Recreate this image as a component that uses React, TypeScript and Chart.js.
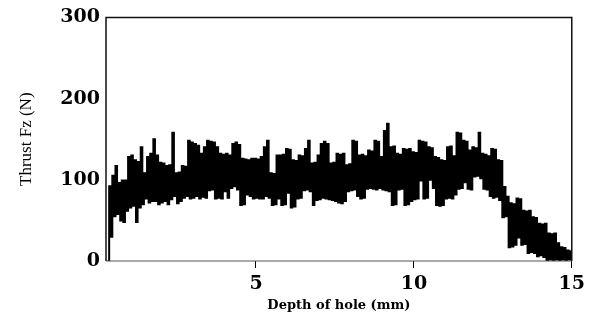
import React, { useEffect, useRef } from 'react';
import { Chart, registerables } from 'chart.js';

Chart.register(...registerables);

// Depth of hole (mm), sampled every 0.05 mm
const depthMm: number[] = [
  0.30, 0.35, 0.40, 0.45, 0.50, 0.55, 0.60, 0.65, 0.70, 0.75, 0.80, 0.85, 0.90, 0.95,
  1.00, 1.05, 1.10, 1.15, 1.20, 1.25, 1.30, 1.35, 1.40, 1.45, 1.50, 1.55, 1.60, 1.65, 1.70, 1.75, 1.80, 1.85, 1.90, 1.95,
  2.00, 2.05, 2.10, 2.15, 2.20, 2.25, 2.30, 2.35, 2.40, 2.45, 2.50, 2.55, 2.60, 2.65, 2.70, 2.75, 2.80, 2.85, 2.90, 2.95,
  3.00, 3.05, 3.10, 3.15, 3.20, 3.25, 3.30, 3.35, 3.40, 3.45, 3.50, 3.55, 3.60, 3.65, 3.70, 3.75, 3.80, 3.85, 3.90, 3.95,
  4.00, 4.05, 4.10, 4.15, 4.20, 4.25, 4.30, 4.35, 4.40, 4.45, 4.50, 4.55, 4.60, 4.65, 4.70, 4.75, 4.80, 4.85, 4.90, 4.95,
  5.00, 5.05, 5.10, 5.15, 5.20, 5.25, 5.30, 5.35, 5.40, 5.45, 5.50, 5.55, 5.60, 5.65, 5.70, 5.75, 5.80, 5.85, 5.90, 5.95,
  6.00, 6.05, 6.10, 6.15, 6.20, 6.25, 6.30, 6.35, 6.40, 6.45, 6.50, 6.55, 6.60, 6.65, 6.70, 6.75, 6.80, 6.85, 6.90, 6.95,
  7.00, 7.05, 7.10, 7.15, 7.20, 7.25, 7.30, 7.35, 7.40, 7.45, 7.50, 7.55, 7.60, 7.65, 7.70, 7.75, 7.80, 7.85, 7.90, 7.95,
  8.00, 8.05, 8.10, 8.15, 8.20, 8.25, 8.30, 8.35, 8.40, 8.45, 8.50, 8.55, 8.60, 8.65, 8.70, 8.75, 8.80, 8.85, 8.90, 8.95,
  9.00, 9.05, 9.10, 9.15, 9.20, 9.25, 9.30, 9.35, 9.40, 9.45, 9.50, 9.55, 9.60, 9.65, 9.70, 9.75, 9.80, 9.85, 9.90, 9.95,
  10.00, 10.05, 10.10, 10.15, 10.20, 10.25, 10.30, 10.35, 10.40, 10.45, 10.50, 10.55, 10.60, 10.65, 10.70, 10.75, 10.80, 10.85, 10.90, 10.95,
  11.00, 11.05, 11.10, 11.15, 11.20, 11.25, 11.30, 11.35, 11.40, 11.45, 11.50, 11.55, 11.60, 11.65, 11.70, 11.75, 11.80, 11.85, 11.90, 11.95,
  12.00, 12.05, 12.10, 12.15, 12.20, 12.25, 12.30, 12.35, 12.40, 12.45, 12.50, 12.55, 12.60, 12.65, 12.70, 12.75, 12.80, 12.85, 12.90, 12.95,
  13.00, 13.05, 13.10, 13.15, 13.20, 13.25, 13.30, 13.35, 13.40, 13.45, 13.50, 13.55, 13.60, 13.65, 13.70, 13.75, 13.80, 13.85, 13.90, 13.95,
  14.00, 14.05, 14.10, 14.15, 14.20, 14.25, 14.30, 14.35, 14.40, 14.45, 14.50, 14.55, 14.60, 14.65, 14.70, 14.75, 14.80, 14.85, 14.90, 14.95,
  15.00,
];

// Thrust Fz (N)
const thrustN: number[] = [
  0, 92, 30, 105, 55, 117, 58, 96, 50, 99, 48, 99, 62, 128,
  66, 130, 68, 124, 48, 122, 66, 140, 70, 108, 77, 128, 72, 132, 74, 150, 74, 130, 70, 121,
  72, 120, 74, 117, 70, 118, 76, 158, 80, 108, 71, 109, 74, 117, 78, 116, 80, 148, 77, 146,
  78, 144, 80, 142, 77, 132, 79, 140, 78, 148, 87, 147, 88, 146, 77, 140, 78, 132, 77, 131,
  86, 132, 78, 130, 90, 144, 92, 146, 88, 143, 69, 126, 70, 125, 82, 124, 80, 126, 77, 126,
  78, 125, 77, 128, 77, 140, 80, 148, 78, 108, 69, 107, 70, 130, 77, 130, 69, 131, 70, 138,
  84, 137, 66, 124, 67, 123, 77, 130, 78, 129, 87, 138, 88, 148, 86, 120, 69, 121, 75, 130,
  76, 144, 78, 147, 77, 144, 76, 120, 75, 121, 74, 132, 72, 131, 71, 132, 74, 118, 86, 119,
  87, 148, 88, 147, 80, 130, 77, 131, 78, 129, 89, 136, 90, 135, 89, 148, 88, 147, 90, 128,
  88, 160, 87, 169, 86, 140, 69, 141, 70, 132, 88, 131, 89, 138, 69, 137, 70, 138, 74, 134,
  76, 133, 77, 148, 99, 147, 77, 146, 78, 140, 100, 139, 90, 128, 69, 127, 68, 124, 69, 123,
  77, 140, 78, 141, 77, 129, 82, 158, 89, 157, 90, 148, 97, 147, 89, 136, 88, 140, 104, 139,
  105, 158, 102, 132, 89, 131, 88, 129, 80, 138, 78, 137, 79, 124, 75, 123, 54, 91, 55, 79,
  17, 71, 18, 70, 20, 77, 29, 76, 20, 62, 21, 61, 10, 62, 11, 54, 10, 53, 6, 46,
  7, 45, 5, 46, 1, 34, 2, 33, 1, 34, 2, 22, 1, 17, 2, 16, 1, 13, 2, 12,
  0,
];

const xTicks: number[] = [5, 10, 15];
const yTicks: number[] = [0, 100, 200, 300];

const xTitle = 'Depth of hole (mm)';
const yTitle = 'Thrust Fz (N)';

export default function App() {
  const ref = useRef<HTMLCanvasElement>(null);

  useEffect(() => {
    if (!ref.current) return;
    const points = depthMm.map((d, i) => ({ x: d, y: thrustN[i] }));

    const framePlugin = {
      id: 'frame',
      afterDatasetsDraw(chart: any) {
        const { ctx, chartArea: a } = chart;
        ctx.save();
        ctx.strokeStyle = '#111';
        ctx.lineWidth = 1.5;
        ctx.beginPath();
        ctx.moveTo(a.left, a.bottom);
        ctx.lineTo(a.left, a.top);
        ctx.lineTo(a.right, a.top);
        ctx.lineTo(a.right, a.bottom);
        ctx.stroke();
        ctx.strokeStyle = '#555';
        ctx.lineWidth = 1.2;
        ctx.beginPath();
        ctx.moveTo(a.left, a.bottom);
        ctx.lineTo(a.right, a.bottom);
        ctx.stroke();
        ctx.restore();
      },
    };

    const tickFont = { family: 'DejaVu Serif', weight: 'bold' as const, size: 19 };

    const chart = new Chart(ref.current, {
      type: 'line',
      data: {
        datasets: [
          {
            data: points,
            borderColor: '#000',
            borderWidth: 2,
            pointRadius: 0,
            stepped: true,
            fill: false,
          },
        ],
      },
      options: {
        animation: false,
        responsive: false,
        layout: { padding: { top: 16, right: 16, left: 0, bottom: 0 } },
        plugins: { legend: { display: false }, tooltip: { enabled: false } },
        scales: {
          x: {
            type: 'linear',
            min: 0.25,
            max: 15,
            afterBuildTicks: (s: any) => {
              s.ticks = xTicks.map((v) => ({ value: v }));
            },
            afterFit: (s: any) => {
              s.height = 62;
            },
            grid: { drawOnChartArea: false, drawTicks: true, tickLength: 7, color: '#000', lineWidth: 1 },
            border: { display: false },
            ticks: { padding: 5, font: tickFont, color: '#000', maxRotation: 0, autoSkip: false },
            title: {
              display: true,
              text: xTitle,
              color: '#000',
              font: { family: 'DejaVu Serif', weight: 'bold', size: 13 },
              padding: { top: 0, bottom: 10 },
            },
          },
          y: {
            type: 'linear',
            min: 0,
            max: 300,
            afterBuildTicks: (s: any) => {
              s.ticks = yTicks.map((v) => ({ value: v }));
            },
            afterFit: (s: any) => {
              s.width = 106;
            },
            grid: { display: false, drawTicks: false },
            border: { display: false },
            ticks: { padding: 6, font: tickFont, color: '#000' },
            title: {
              display: true,
              text: yTitle,
              color: '#000',
              font: { family: 'Liberation Serif', size: 17 },
              padding: { top: 16, bottom: 0 },
            },
          },
        },
      },
      plugins: [framePlugin],
    });

    return () => chart.destroy();
  }, []);

  return (
    <div style={{ position: 'fixed', left: 0, top: 0, width: 590, height: 323, background: '#fff' }}>
      <canvas ref={ref} width={590} height={323} style={{ width: 590, height: 323, display: 'block' }} />
    </div>
  );
}
